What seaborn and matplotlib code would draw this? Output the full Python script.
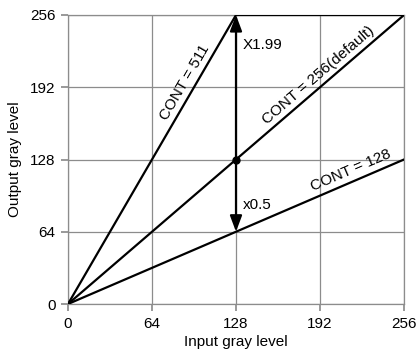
import matplotlib
matplotlib.use("Agg")
import matplotlib.pyplot as plt
import seaborn as sns
import pandas as pd
import numpy as np

# Data
input_levels = [0, 128, 256]
cont_511 = [0, 256, 256]
cont_256 = [0, 128, 256]
cont_128 = [0, 64, 128]
ticks = [0, 64, 128, 192, 256]
series_names = ["CONT = 511", "CONT = 256(default)", "CONT = 128"]

sns.set_theme(style="white")
plt.rcParams['font.family'] = ['Liberation Sans', 'DejaVu Sans']
plt.rcParams['text.color'] = 'black'
plt.rcParams['axes.labelcolor'] = 'black'

df = pd.DataFrame({
    "x": input_levels * 3,
    "y": cont_511 + cont_256 + cont_128,
    "series": [series_names[0]] * 3 + [series_names[1]] * 3 + [series_names[2]] * 3,
})

fs = 11

fig = plt.figure(figsize=(4.17, 3.56), dpi=100)
ax = fig.add_axes([68/417, (356-304)/356, 336/417, 289/356])

sns.lineplot(data=df, x="x", y="y", units="series", estimator=None, color="black",
             linewidth=1.6, ax=ax, legend=False, sort=False, zorder=3)

ax.set_xlim(0, 256)
ax.set_ylim(0, 256)
ax.set_xticks(ticks)
ax.set_yticks(ticks)
ax.set_xticklabels([str(t) for t in ticks], fontsize=fs)
ax.set_yticklabels([str(t) for t in ticks], fontsize=fs)
ax.grid(True, color="#8c8c8c", linewidth=0.9)
for s in ax.spines.values():
    s.set_color("#8c8c8c")
    s.set_linewidth(0.9)
ax.tick_params(axis="x", length=5, color="#8c8c8c", labelcolor="black", pad=4, bottom=True)
ax.tick_params(axis="y", length=5, color="#8c8c8c", labelcolor="black", pad=4, left=True)
ax.set_xlabel("Input gray level", fontsize=fs, labelpad=3, color="black")
ax.set_ylabel("Output gray level", fontsize=fs, labelpad=6, color="black")

# Double arrow at x=128
ax.annotate("", xy=(128, 256), xytext=(128, 128),
            arrowprops=dict(arrowstyle="-|>,head_length=0.8,head_width=0.3", color="black", lw=1.6,
                            shrinkA=0, shrinkB=0), zorder=4)
ax.annotate("", xy=(128, 64), xytext=(128, 128),
            arrowprops=dict(arrowstyle="-|>,head_length=0.8,head_width=0.3", color="black", lw=1.6,
                            shrinkA=0, shrinkB=0), zorder=4)
ax.plot([128], [128], "o", color="black", markersize=5, zorder=5)

ax.text(133, 229, "X1.99", fontsize=fs, va="center", ha="left", color="black")
ax.text(133, 88, "x0.5", fontsize=fs, va="center", ha="left", color="black")

# line labels: (x, y on line, screen angle)
label_pos = [(96, 192, 59.8), (196, 196, 40.7), (219, 109.5, 23.3)]
for name, (lx, ly, ang) in zip(series_names, label_pos):
    th = np.deg2rad(ang)
    off = 2.5
    ax.annotate(name, xy=(lx, ly), xytext=(-np.sin(th) * off, np.cos(th) * off),
                textcoords="offset points", fontsize=fs, rotation=ang,
                ha="center", va="bottom", rotation_mode="anchor", color="black")

fig.savefig("out.png", dpi=100)
